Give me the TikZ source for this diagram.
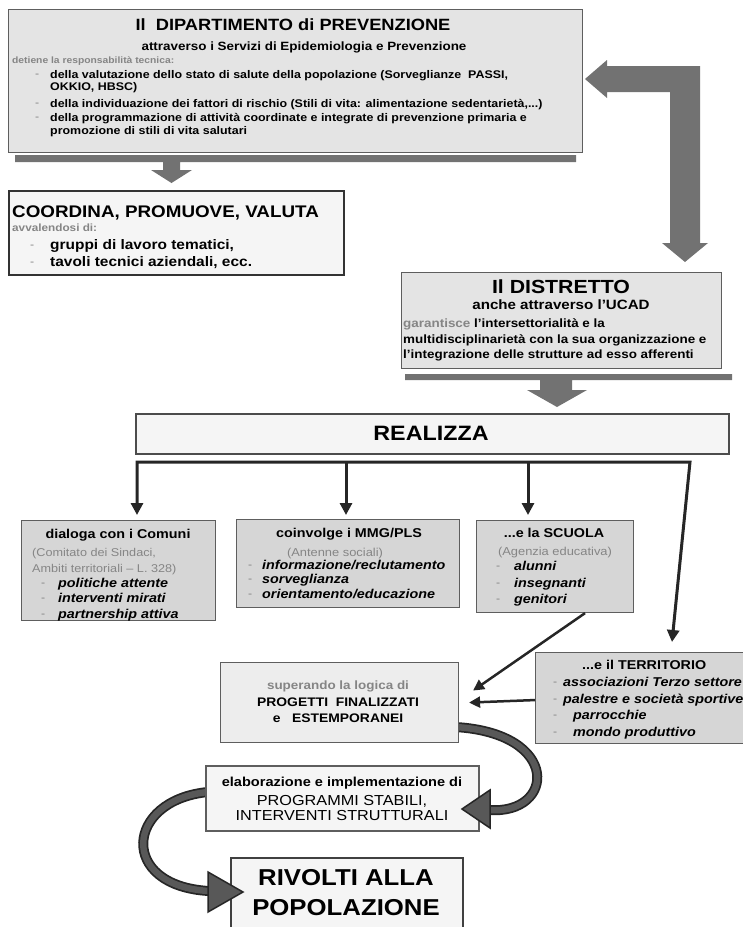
\documentclass[tikz,border=0pt]{standalone}
\usepackage{fontspec}
\setmainfont[FakeStretch=1.12]{Liberation Sans}
\usetikzlibrary{arrows.meta,calc}
\definecolor{boxgray}{HTML}{E4E4E4}
\definecolor{boxlight}{HTML}{F5F5F5}
\definecolor{boxmid}{HTML}{D6D6D6}
\definecolor{boxsup}{HTML}{EDEDED}
\definecolor{arrowgray}{HTML}{727272}
\definecolor{fatgray}{HTML}{585858}
\definecolor{bordergray}{HTML}{5E5E5E}
\definecolor{txtgray}{HTML}{858585}
\definecolor{treecol}{HTML}{262626}
\newcommand\fsz[1]{\fontsize{#1pt}{#1pt}\selectfont}
\begin{document}
\begin{tikzpicture}[x=1pt,y=-1pt,
  box/.style={draw=bordergray, line width=1.1pt, inner sep=0pt, anchor=north west},
  t/.style={inner sep=0pt, text depth=0pt},
  tl/.style={t, anchor=west},
  tc/.style={t, anchor=center},
  fb/.style={font=\fsz{#1}\bfseries, text height={0.72*#1pt}},
  fr/.style={font=\fsz{#1}, text height={0.72*#1pt}},
  fi/.style={font=\fsz{#1}\bfseries\itshape, text height={0.72*#1pt}},
  dsh/.style={t, anchor=west, text=txtgray, fr=11},
  tree/.style={draw=treecol, line width=3pt, line join=miter},
  tip/.style={-{Triangle[width=12pt,length=12pt]}},
  thin/.style={draw=treecol, line width=2.5pt, -{Triangle[width=11pt,length=11pt]}},
  fatout/.style={draw=black!85, line width=10pt},
  fatin/.style={draw=fatgray, line width=6.5pt},
  fathead/.style={fill=fatgray, draw=black!85, line width=1.5pt, line join=miter}
]
\useasboundingbox (0,0) rectangle (743,927);
\clip (0,0) rectangle (743,927);

% ---- big gray arrows and bars
\fill[arrowgray] (15,155) -- (576,155) -- (576,162) -- (180,162) -- (180,170) -- (192,170)
  -- (171.5,183) -- (151,170) -- (163,170) -- (163,162) -- (15,162) -- cycle;
\fill[arrowgray] (585,79) -- (607,60) -- (607,66) -- (700,66) -- (700,243) -- (708,243)
  -- (685,262) -- (662,243) -- (670,243) -- (670,92) -- (607,92) -- (607,98) -- cycle;
\fill[arrowgray] (405,374) -- (732,374) -- (732,380) -- (572,380) -- (572,390) -- (587,390)
  -- (557,407) -- (527,390) -- (540,390) -- (540,380) -- (405,380) -- cycle;

% ---- fat curved arrow shafts
\draw[fatout] (455,727) .. controls (562,733) and (555,815) .. (489,810);
\draw[fatin]  (455,727) .. controls (562,733) and (555,815) .. (489,810);
\draw[fatout] (208,792) .. controls (125,800) and (118,886) .. (209,891);
\draw[fatin]  (208,792) .. controls (125,800) and (118,886) .. (209,891);

% ---- boxes
\node[box, fill=boxgray, minimum width=574pt, minimum height=143pt] (dip) at (8,9) {};
\node[box, fill=boxlight, draw=black!80, line width=1.8pt, minimum width=335pt, minimum height=84pt] (coord) at (8,190) {};
\node[box, fill=boxgray, minimum width=320pt, minimum height=96pt] (dist) at (401,272) {};
\node[box, fill=boxlight, draw=black!70, line width=1.8pt, minimum width=593pt, minimum height=40pt] (real) at (135,413) {};
\node[box, fill=boxmid, minimum width=194pt, minimum height=100pt] (com) at (21,520) {};
\node[box, fill=boxmid, minimum width=223pt, minimum height=88pt] (mmg) at (236,519) {};
\node[box, fill=boxmid, minimum width=157pt, minimum height=92pt] (scu) at (476,520) {};
\node[box, fill=boxmid, minimum width=230pt, minimum height=91pt] (terr) at (535,652) {};
\node[box, fill=boxsup, minimum width=238pt, minimum height=80pt] (sup) at (220,662) {};
\node[box, fill=boxlight, line width=1.5pt, minimum width=273pt, minimum height=65pt] (ela) at (205,765) {};
\node[box, fill=boxlight, draw=black!75, line width=1.8pt, minimum width=232pt, minimum height=90pt] (riv) at (230,857) {};

% ---- tree connectors
\coordinate (tl) at (137,462);
\coordinate (tr) at (690,462);
\coordinate (d2) at (346,462);
\coordinate (d3) at (528,462);
\coordinate (tt) at ($(terr.north west)+(137,-10)$);
\draw[tree,{Triangle[width=12pt,length=12pt]}-{Triangle[width=12pt,length=12pt]}]
  ($(tl |- com.north)+(0,-5)$) -- (tl) -- (tr) -- (tt);
\draw[tree,tip] (d2) -- ($(d2 |- mmg.north)+(0,-4)$);
\draw[tree,tip] (d3) -- ($(d3 |- scu.north)+(0,-5)$);
\draw[thin] ($(scu.south)+(30,0)$) -- ($(sup.east)+(14,-12)$);
\draw[thin] ($(terr.west)+(0,2)$) -- ($(sup.east)+(10,0)$);

% ---- fat curved arrow heads
\draw[fathead] (462,809) -- (490,790) -- (490,828) -- cycle;
\draw[fathead] (243,892) -- (208,872) -- (208,912) -- cycle;

% ---- texts: Dipartimento
\node[tc, fb=16.3] (d1) at (293,25) {Il~~DIPARTIMENTO di PREVENZIONE};
\node[tc, fb=12] (d2t) at (304,46) {attraverso i Servizi di Epidemiologia e Prevenzione};
\node[tl, fb=9.2, text=txtgray] (d3t) at (12,60) {detiene la responsabilità tecnica:};
\node[dsh] (dd1) at (35,74) {-};
\node[dsh] (dd2) at (35,103) {-};
\node[dsh] (dd3) at (35,117) {-};
\node[tl, fb=11.1] (d4) at (50,74) {della valutazione dello stato di salute della popolazione (Sorveglianze~~PASSI,};
\node[tl, fb=11.1] (d5) at (50,87) {OKKIO, HBSC)};
\node[tl, fb=11.1] (d6) at (50,103) {della individuazione dei fattori di rischio (Stili di vita: alimentazione sedentarietà,...)};
\node[tl, fb=11.1] (d7) at (50,117) {della programmazione di attività coordinate e integrate di prevenzione primaria e};
\node[tl, fb=11.1] (d8) at (50,131) {promozione di stili di vita salutari};

% ---- Coordina
\node[tl, fb=16.8] (c1) at (12,211) {COORDINA, PROMUOVE, VALUTA};
\node[tl, fb=10.5, text=txtgray] (c2) at (12,228) {avvalendosi di:};
\node[dsh] (cd1) at (30,245) {-};
\node[dsh] (cd2) at (30,262) {-};
\node[tl, fb=13.8] (c3) at (50,245) {gruppi di lavoro tematici,};
\node[tl, fb=13.8] (c4) at (50,262) {tavoli tecnici aziendali, ecc.};

% ---- Distretto
\node[tc, fb=19] (s1) at (561,287) {Il DISTRETTO};
\node[tc, fb=13.5] (s2) at (561,305) {anche attraverso l’UCAD};
\node[tl, fb=12] (s3) at (403,323) {\textcolor{txtgray}{garantisce} l’intersettorialità e la};
\node[tl, fb=12] (s4) at (403,339) {multidisciplinarietà con la sua organizzazione e};
\node[tl, fb=12] (s5) at (403,354) {l’integrazione delle strutture ad esso afferenti};

% ---- Realizza
\node[tc, fb=20.8] (r1) at (431,433) {REALIZZA};

% ---- Comuni
\node[tc, fb=12.8] (m1) at (118,534) {dialoga con i Comuni};
\node[tl, fr=11.3, text=txtgray] (m2) at (32,552) {(Comitato dei Sindaci,};
\node[tl, fr=11.3, text=txtgray] (m3) at (32,568) {Ambiti territoriali – L. 328)};
\node[dsh] (md1) at (41,583) {-};
\node[dsh] (md2) at (41,598) {-};
\node[dsh] (md3) at (41,614) {-};
\node[tl, fi=12.8] (m4) at (58,583) {politiche attente};
\node[tl, fi=12.8] (m5) at (58,598) {interventi mirati};
\node[tl, fi=12.8] (m6) at (58,614) {partnership attiva};

% ---- MMG
\node[tc, fb=12.8] (g1) at (349,533) {coinvolge i MMG/PLS};
\node[tc, fr=11.5, text=txtgray] (g2) at (335,552) {(Antenne sociali)};
\node[dsh] (gd1) at (248,565) {-};
\node[dsh] (gd2) at (248,579) {-};
\node[dsh] (gd3) at (248,594) {-};
\node[tl, fi=12.8] (g3) at (262,565) {informazione/reclutamento};
\node[tl, fi=12.8] (g4) at (262,579) {sorveglianza};
\node[tl, fi=12.8] (g5) at (262,594) {orientamento/educazione};

% ---- Scuola
\node[tc, fb=12.8] (k1) at (554,533) {...e la SCUOLA};
\node[tc, fr=11.5, text=txtgray] (k2) at (555,551) {(Agenzia educativa)};
\node[dsh] (kd1) at (496,566) {-};
\node[dsh] (kd2) at (496,583) {-};
\node[dsh] (kd3) at (496,599) {-};
\node[tl, fi=12.8] (k3) at (514,566) {alunni};
\node[tl, fi=12.8] (k4) at (514,583) {insegnanti};
\node[tl, fi=12.8] (k5) at (514,599) {genitori};

% ---- Territorio
\node[tl, fb=12.8] (e1) at (582,665) {...e il TERRITORIO};
\node[dsh] (ed1) at (553,682) {-};
\node[dsh] (ed2) at (553,699) {-};
\node[dsh] (ed3) at (553,715) {-};
\node[dsh] (ed4) at (553,732) {-};
\node[tl, fi=12.8] (e2) at (563,682) {associazioni Terzo settore};
\node[tl, fi=12.8] (e3) at (563,699) {palestre e società sportive};
\node[tl, fi=12.8] (e4) at (573,715) {parrocchie};
\node[tl, fi=12.8] (e5) at (573,732) {mondo produttivo};

% ---- Superando
\node[tc, fb=12, text=txtgray] (p1) at (338,685) {superando la logica di};
\node[tc, fb=12.4] (p2) at (338,702) {PROGETTI~~FINALIZZATI};
\node[tc, fb=12.4] (p3) at (338,718) {e~~~ESTEMPORANEI};

% ---- Elaborazione
\node[tc, fb=13] (l1) at (342,782) {elaborazione e implementazione di};
\node[tc, fr=14.5] (l2) at (342,800) {PROGRAMMI STABILI,};
\node[tc, fr=14.5] (l3) at (342,815) {INTERVENTI STRUTTURALI};

% ---- Rivolti
\node[tc, fb=23] (v1) at (346,877) {RIVOLTI ALLA};
\node[tc, fb=23] (v2) at (346,907) {POPOLAZIONE};
\end{tikzpicture}
\end{document}
